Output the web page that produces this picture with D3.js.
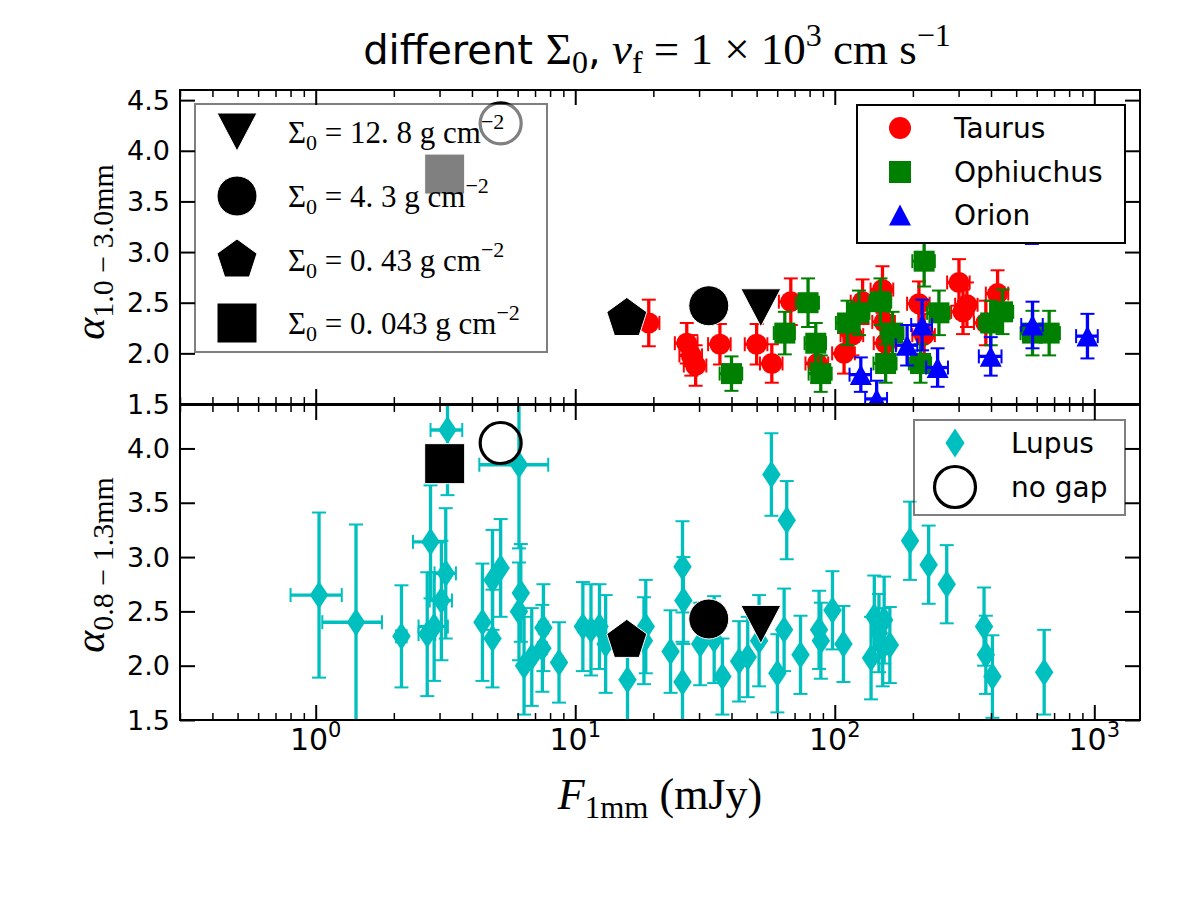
<!DOCTYPE html>
<html><head><meta charset="utf-8">
<script src="https://cdn.jsdelivr.net/npm/d3@7"></script>
<style>body{margin:0;background:#fff}</style>
</head><body>
<svg id="chart" width="1200" height="900"></svg>
<script>
// ---------------- DATA ----------------
// Top panel: alpha(1.0-3.0mm) vs F1mm
const taurusFlux  = [19.2, 26.9, 28.0, 29.1, 36.1, 50.0, 57.2, 67.7, 85.7, 108.6, 117, 128, 152.7, 155, 157, 211, 221, 301, 323, 312, 424, 382];
const taurusAlpha = [2.30, 2.10, 1.98, 1.88, 2.09, 2.09, 1.90, 2.51, 1.90, 2.00, 2.18, 2.51, 2.63, 2.31, 2.10, 2.49, 2.18, 2.70, 2.48, 2.41, 2.59, 2.30];
const taurusAlphaErr = [0.23, 0.20, 0.20, 0.20, 0.20, 0.20, 0.19, 0.23, 0.19, 0.20, 0.20, 0.22, 0.23, 0.21, 0.20, 0.22, 0.21, 0.23, 0.22, 0.22, 0.23, 0.22];
const taurusFluxErr = [1.9, 2.7, 2.8, 2.9, 3.6, 5.0, 5.7, 6.8, 8.6, 10.9, 11.7, 12.8, 15.3, 15.5, 15.7, 21, 22, 30, 32, 31, 42, 38];

const ophFlux  = [40.0, 64.2, 78.9, 84.5, 88.3, 112, 124, 150, 167, 157, 221, 214, 252, 399, 443, 578, 670];
const ophAlpha = [1.80, 2.20, 2.50, 2.10, 1.80, 2.30, 2.40, 2.51, 2.20, 1.90, 2.91, 1.90, 2.40, 2.30, 2.41, 2.20, 2.20];
const ophAlphaErr = [0.17, 0.21, 0.24, 0.20, 0.18, 0.22, 0.22, 0.23, 0.21, 0.19, 0.25, 0.19, 0.22, 0.22, 0.22, 0.22, 0.22];
const ophFluxErr = [4, 6, 8, 8, 9, 11, 12, 15, 17, 16, 22, 21, 25, 40, 44, 58, 67];

const orionFlux  = [126, 145, 190, 217, 249, 399, 578, 941, 575];
const orionAlpha = [1.79, 1.55, 2.08, 2.28, 1.86, 1.97, 2.28, 2.17, 3.30];
const orionAlphaErr = [0.17, 0.18, 0.20, 0.25, 0.19, 0.19, 0.23, 0.22, 0.22];
const orionFluxErr = [12, 14, 18, 20, 24, 40, 55, 90, 55];

// Bottom panel: alpha(0.8-1.3mm) vs F1mm, Lupus
const lupusFlux  = [1.03, 1.43, 2.14, 2.77, 2.69, 2.86, 3.22, 3.17, 3.05, 4.39, 4.80, 4.80, 5.16, 6.07, 6.17, 6.07, 6.35, 6.8, 7.54, 7.47, 8.66,
                    10.7, 11.5, 12.4, 13.1, 15.9, 18.7, 18.4, 23.3, 25.9, 26.1, 25.9, 30.3, 34.3, 36.9, 42.8, 46.2, 51.1, 57.0, 65.3, 60.1,
                    63.8, 73.8, 87, 88.4, 98, 108, 138, 142, 148, 155, 163, 153, 195, 230, 270, 376, 382, 405, 641];
const lupusAlpha = [2.65, 2.40, 2.27, 3.14, 2.29, 2.36, 4.17, 2.85, 2.60, 2.40, 2.79, 2.25, 2.90, 3.85, 2.67, 2.50, 2.00, 2.08, 2.35, 2.16, 2.03,
                    2.36, 2.33, 2.36, 2.20, 1.87, 2.36, 2.23, 2.13, 2.91, 2.60, 1.85, 2.20, 2.24, 1.90, 2.04, 2.08, 2.23, 3.76, 3.34, 1.93,
                    2.33, 2.10, 2.33, 2.23, 2.51, 2.20, 2.07, 2.45, 2.30, 2.42, 2.19, 2.17, 3.15, 2.93, 2.75, 2.36, 2.10, 1.90, 1.94];
const lupusAlphaErr = [0.76, 0.90, 0.47, 0.52, 0.57, 0.50, 0.60, 0.60, 0.55, 0.54, 0.46, 0.45, 0.45, 0.77, 0.45, 0.45, 0.45, 0.45, 0.40, 0.40, 0.37,
                       0.41, 0.42, 0.39, 0.45, 0.50, 0.43, 0.40, 0.38, 0.42, 0.40, 0.37, 0.38, 0.40, 0.35, 0.37, 0.37, 0.42, 0.38, 0.36, 0.36,
                       0.38, 0.36, 0.36, 0.35, 0.36, 0.35, 0.38, 0.38, 0.36, 0.40, 0.35, 0.36, 0.36, 0.36, 0.36, 0.36, 0.36, 0.38, 0.39];
const lupusFluxErr = [0.23, 0.37, 0.10, 0.40, 0.20, 0.37, 0.45, 0.30, 0.30, 0.15, 0.15, 0.15, 0.15, 1.8, 0.2, 0.2, 0.2, 0.2, 0.3, 0.3, 0.3,
                      0.4, 0.4, 0.4, 0.4, 0.5, 0.6, 0.6, 0.7, 0.8, 0.8, 0.8, 0.9, 1.0, 1.1, 1.3, 1.4, 1.5, 1.7, 2.0, 1.8,
                      1.9, 2.2, 2.6, 2.7, 3.0, 3.2, 4.1, 4.3, 4.4, 4.6, 4.9, 4.6, 5.9, 6.9, 8.1, 11, 11, 12, 19];

// Model points (order: 12.8, 4.3, 0.43, 0.043 g cm^-2)
const modelLabels = ["12. 8", "4. 3", "0. 43", "0. 043"];
const modelSymbols = ["triangle-down", "circle", "pentagon", "square"];
const modelFlux = [51.9, 32.7, 15.8, 3.14];
const modelAlphaTop = [2.45, 2.47, 2.344, 3.77];
const modelAlphaBot = [2.38, 2.43, 2.233, 3.86];
// no-gap model
const noGapFlux = [5.16];
const noGapAlphaTop = [4.27];
const noGapAlphaBot = [4.05];

// ticks
const xMajorTicks = [1, 10, 100, 1000];
const xTickExponents = ["0", "1", "2", "3"];
const xMinorTicks = [0.3,0.4,0.5,0.6,0.7,0.8,0.9,2,3,4,5,6,7,8,9,20,30,40,50,60,70,80,90,200,300,400,500,600,700,800,900];
const yTicksTop = [1.5, 2.0, 2.5, 3.0, 3.5, 4.0, 4.5];
const yTicksBot = [1.5, 2.0, 2.5, 3.0, 3.5, 4.0];

const topLegendNames = ["Taurus", "Ophiuchus", "Orion"];
const bottomLegendNames = ["Lupus", "no gap"];

// ---------------- DRAWING ----------------
const SANS = "DejaVu Sans";
const SERIF = "Liberation Serif";
const RED = "#ff0000", GREEN = "#008000", BLUE = "#0000ff", CYAN = "#00bfbf";

const svg = d3.select("#chart");
svg.append("rect").attr("width", 1200).attr("height", 900).attr("fill", "#fff");

const L = 180, R = 1140;
const x = d3.scaleLog().domain([0.3, 1500]).range([L, R]);
const yTop = d3.scaleLinear().domain([1.5, 4.6]).range([404, 90]);
const yBot = d3.scaleLinear().domain([1.5, 4.4]).range([720, 405]);

const defs = svg.append("defs");
defs.append("clipPath").attr("id", "clipTop").append("rect")
  .attr("x", L).attr("y", 90).attr("width", R - L).attr("height", 314);
defs.append("clipPath").attr("id", "clipBot").append("rect")
  .attr("x", L).attr("y", 405).attr("width", R - L).attr("height", 315);

function symbolPath(kind, cx, cy, size) {
  const h = size / 2;
  if (kind === "circle") {
    return `M${cx - h},${cy}a${h},${h} 0 1,0 ${size},0a${h},${h} 0 1,0 ${-size},0Z`;
  }
  if (kind === "square") {
    return `M${cx - h},${cy - h}h${size}v${size}h${-size}Z`;
  }
  if (kind === "triangle-down") {
    const hh = size * 0.475;
    return `M${cx - h},${cy - hh}L${cx + h},${cy - hh}L${cx},${cy + hh}Z`;
  }
  if (kind === "triangle-up") {
    const hh = size * 0.475;
    return `M${cx - h},${cy + hh}L${cx + h},${cy + hh}L${cx},${cy - hh}Z`;
  }
  if (kind === "pentagon") {
    const r = size / 1.902;
    let p = "";
    for (let k = 0; k < 5; k++) {
      const a = -Math.PI / 2 + k * 2 * Math.PI / 5;
      p += (k ? "L" : "M") + (cx + r * Math.cos(a)) + "," + (cy + r * Math.sin(a));
    }
    return p + "Z";
  }
  if (kind === "thin-diamond") {
    const hh = size / 2, hw = size * 0.33;
    return `M${cx},${cy - hh}L${cx + hw},${cy}L${cx},${cy + hh}L${cx - hw},${cy}Z`;
  }
}

function drawSeries(g, ys, F, A, Ferr, Aerr, color, kind, size) {
  const bars = g.append("g").attr("stroke", color).attr("fill", "none");
  F.forEach((f, i) => {
    const cx = x(f), cy = ys(A[i]);
    const y0 = ys(A[i] - Aerr[i]), y1 = ys(A[i] + Aerr[i]);
    bars.append("line").attr("x1", cx).attr("x2", cx).attr("y1", y0).attr("y2", y1).attr("stroke-width", 3.3);
    [y0, y1].forEach(yy => bars.append("line").attr("x1", cx - 7).attr("x2", cx + 7)
      .attr("y1", yy).attr("y2", yy).attr("stroke-width", 2));
    if (Ferr) {
      const x0 = x(Math.max(f - Ferr[i], 0.01)), x1 = x(f + Ferr[i]);
      bars.append("line").attr("x1", x0).attr("x2", x1).attr("y1", cy).attr("y2", cy).attr("stroke-width", 3.3);
      [x0, x1].forEach(xx => bars.append("line").attr("x1", xx).attr("x2", xx)
        .attr("y1", cy - 7).attr("y2", cy + 7).attr("stroke-width", 2));
    }
  });
  g.append("g").selectAll("path").data(F).join("path")
    .attr("d", (f, i) => symbolPath(kind, x(f), ys(A[i]), size))
    .attr("fill", color);
}

function drawModels(g, ys, alphas, noGapAlpha) {
  g.append("g").selectAll("path").data(modelFlux).join("path")
    .attr("d", (f, i) => symbolPath(modelSymbols[i], x(f), ys(alphas[i]), 40))
    .attr("fill", "#000").attr("stroke", "#fff").attr("stroke-width", 1);
  g.append("g").selectAll("circle").data(noGapFlux).join("circle")
    .attr("cx", f => x(f)).attr("cy", (f, i) => ys(noGapAlpha[i])).attr("r", 20.5)
    .attr("fill", "none").attr("stroke", "#000").attr("stroke-width", 3.2);
}

// rich text helper
function rich(parent, xx, yy, anchor, segs, attrs) {
  const t = parent.append("text").attr("x", xx).attr("y", yy).attr("text-anchor", anchor).attr("fill", "#000");
  if (attrs) Object.entries(attrs).forEach(([k, v]) => t.attr(k, v));
  let shift = 0;
  segs.forEach(s => {
    const sp = t.append("tspan").text(s.t)
      .attr("font-family", s.f || SERIF).attr("font-size", s.s)
      .attr("font-style", s.i ? "italic" : "normal");
    const target = s.sh || 0;
    if (target !== shift) { sp.attr("dy", target - shift); shift = target; }
    if (s.dx) sp.attr("dx", s.dx);
  });
  return t;
}

// ---- TOP PANEL DATA ----
const gTop = svg.append("g").attr("clip-path", "url(#clipTop)");
drawSeries(gTop, yTop, taurusFlux, taurusAlpha, taurusFluxErr, taurusAlphaErr, RED, "circle", 21);
drawSeries(gTop, yTop, ophFlux, ophAlpha, ophFluxErr, ophAlphaErr, GREEN, "square", 21);
drawSeries(gTop, yTop, orionFlux, orionAlpha, orionFluxErr, orionAlphaErr, BLUE, "triangle-up", 22);
drawModels(gTop, yTop, modelAlphaTop, noGapAlphaTop);

// ---- BOTTOM PANEL DATA ----
const gBot = svg.append("g").attr("clip-path", "url(#clipBot)");
drawSeries(gBot, yBot, lupusFlux, lupusAlpha, lupusFluxErr, lupusAlphaErr, CYAN, "thin-diamond", 28);
drawModels(gBot, yBot, modelAlphaBot, noGapAlphaBot);

// ---- AXES / FRAMES ----
function frame(ys, top, bottom, yTicks) {
  const g = svg.append("g");
  const style = (sel, w) => { sel.select(".domain").remove(); sel.selectAll(".tick line").attr("stroke", "#000").attr("stroke-width", w); sel.selectAll("text").remove(); };
  g.append("g").attr("transform", `translate(0,${bottom})`)
    .call(d3.axisBottom(x).tickValues(xMajorTicks).tickSize(-15).tickFormat(""))
    .call(s => style(s, 2));
  g.append("g").attr("transform", `translate(0,${bottom})`)
    .call(d3.axisBottom(x).tickValues(xMinorTicks).tickSize(-7).tickFormat(""))
    .call(s => style(s, 1.5));
  g.append("g").attr("transform", `translate(0,${top})`)
    .call(d3.axisTop(x).tickValues(xMajorTicks).tickSize(-15).tickFormat(""))
    .call(s => style(s, 2));
  g.append("g").attr("transform", `translate(0,${top})`)
    .call(d3.axisTop(x).tickValues(xMinorTicks).tickSize(-7).tickFormat(""))
    .call(s => style(s, 1.5));
  g.append("g").attr("transform", `translate(${L},0)`)
    .call(d3.axisLeft(ys).tickValues(yTicks).tickSize(-15).tickFormat(""))
    .call(s => style(s, 2));
  g.append("g").attr("transform", `translate(${R},0)`)
    .call(d3.axisRight(ys).tickValues(yTicks).tickSize(-15).tickFormat(""))
    .call(s => style(s, 2));
  // tick labels
  g.append("g").selectAll("text").data(yTicks).join("text")
    .attr("x", L - 10).attr("y", d => ys(d)).attr("dy", "0.36em")
    .attr("text-anchor", "end").attr("font-family", SANS).attr("font-size", 27)
    .text(d => d3.format(".1f")(d));
  g.append("rect").attr("x", L).attr("y", top).attr("width", R - L).attr("height", bottom - top)
    .attr("fill", "none").attr("stroke", "#000").attr("stroke-width", 2);
}

// legends (drawn over data, under frames)
// top-left model legend, semi-transparent
const lg1 = svg.append("g");
lg1.append("rect").attr("x", 195).attr("y", 104).attr("width", 352).attr("height", 248)
  .attr("fill", "#fff").attr("fill-opacity", 0.5).attr("stroke", "#000").attr("stroke-opacity", 0.5).attr("stroke-width", 2);
const lg1Rows = [132, 196, 260, 323];
modelSymbols.forEach((k, i) => {
  lg1.append("path").attr("d", symbolPath(k, 237, lg1Rows[i], 40)).attr("fill", "#000").attr("stroke", "#fff").attr("stroke-width", 1);
  rich(lg1, 288, lg1Rows[i] + 11, "start", [
    {t: "Σ", s: 31}, {t: "0", s: 22, sh: 7}, {t: " = " + modelLabels[i] + " g cm", s: 31},
    {t: "−2", s: 22, sh: -14}
  ]);
});

// top-right region legend (opaque)
const lg2 = svg.append("g");
lg2.append("rect").attr("x", 857).attr("y", 105).attr("width", 268).attr("height", 138)
  .attr("fill", "#fff").attr("stroke", "#000").attr("stroke-width", 2);
const lg2Rows = [128, 172, 215];
const lg2Sym = ["circle", "square", "triangle-up"], lg2Col = [RED, GREEN, BLUE];
topLegendNames.forEach((n, i) => {
  lg2.append("path").attr("d", symbolPath(lg2Sym[i], 900, lg2Rows[i], 22)).attr("fill", lg2Col[i]);
  lg2.append("text").attr("x", 954).attr("y", lg2Rows[i] + 10).attr("font-family", SANS).attr("font-size", 28).text(n);
});

// bottom legend (semi-transparent)
const lg3 = svg.append("g");
lg3.append("rect").attr("x", 914).attr("y", 420).attr("width", 211).attr("height", 95)
  .attr("fill", "#fff").attr("fill-opacity", 0.5).attr("stroke", "#000").attr("stroke-opacity", 0.5).attr("stroke-width", 2);
lg3.append("path").attr("d", symbolPath("thin-diamond", 955, 443, 29)).attr("fill", CYAN);
lg3.append("circle").attr("cx", 955).attr("cy", 487).attr("r", 20.5).attr("fill", "none").attr("stroke", "#000").attr("stroke-width", 3.2);
bottomLegendNames.forEach((n, i) => {
  lg3.append("text").attr("x", 1011).attr("y", [453, 497][i]).attr("font-family", SANS).attr("font-size", 28).text(n);
});

frame(yTop, 90, 404, yTicksTop);
frame(yBot, 405, 720, yTicksBot);

// x tick labels (bottom panel)
xMajorTicks.forEach((v, i) => {
  rich(svg, x(v), 750, "middle", [
    {t: "10", f: SANS, s: 30}, {t: xTickExponents[i], f: SANS, s: 21, sh: -13}
  ]);
});

// title
rich(svg, 657, 64, "middle", [
  {t: "different ", f: SANS, s: 40},
  {t: "Σ", s: 45}, {t: "0", s: 32, sh: 9}, {t: ",", f: SANS, s: 40},
  {t: " v", s: 45, i: true}, {t: "f", s: 32, sh: 9},
  {t: " = 1 × 10", s: 45}, {t: "3", s: 32, sh: -18},
  {t: " cm s", s: 45}, {t: "−1", s: 32, sh: -18}
]);

// x label
rich(svg, 660, 809, "middle", [
  {t: "F", s: 44, i: true}, {t: "1mm", s: 31, sh: 9}, {t: " (mJy)", s: 44}
]);

// y labels
const yl1 = svg.append("g").attr("transform", "translate(104,252) rotate(-90)");
rich(yl1, 0, 0, "middle", [{t: "α", s: 42, i: true}, {t: "1.0 − 3.0mm", s: 30, sh: 9}]);
const yl2 = svg.append("g").attr("transform", "translate(104,565) rotate(-90)");
rich(yl2, 0, 0, "middle", [{t: "α", s: 42, i: true}, {t: "0.8 − 1.3mm", s: 30, sh: 9}]);
</script>
</body></html>
